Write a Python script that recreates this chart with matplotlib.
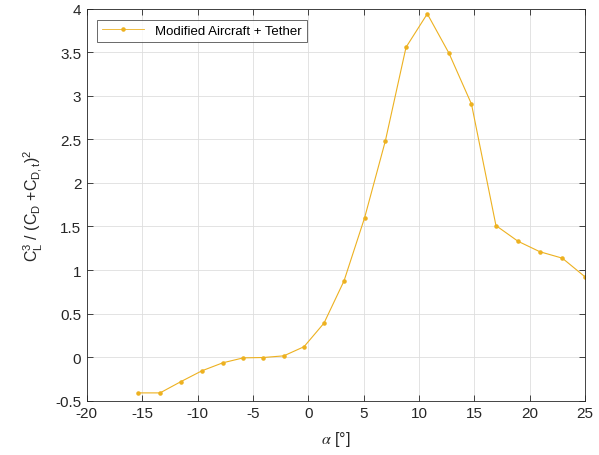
import matplotlib
matplotlib.use("Agg")
import matplotlib.pyplot as plt
from matplotlib.ticker import FuncFormatter

plt.rcParams['font.family'] = ['Liberation Sans', 'DejaVu Sans']
plt.rcParams['mathtext.fontset'] = 'stix'
plt.rcParams['mathtext.default'] = 'regular'

# Angle of attack [deg] and power factor CL^3/(CD+CD,t)^2
alpha = [-15.38, -13.39, -11.5, -9.62, -7.73, -5.87, -4.07, -2.22, -0.39, 1.41,
         3.22, 5.08, 6.95, 8.82, 10.74, 12.7, 14.73, 16.94, 18.93, 20.9, 22.93, 25.0]
power_factor = [-0.41, -0.41, -0.28, -0.157, -0.065, -0.008, -0.004, 0.015, 0.12, 0.39,
                0.875, 1.60, 2.48, 3.556, 3.94, 3.487, 2.904, 1.51, 1.33, 1.21, 1.136, 0.92]
series_label = 'Modified Aircraft + Tether'

x_ticks = list(range(-20, 30, 5))
y_ticks = [-0.5, 0, 0.5, 1, 1.5, 2, 2.5, 3, 3.5, 4]

ink = '#262626'
line_color = '#EDB120'

fig = plt.figure(figsize=(5.99, 4.56), dpi=100)
ax = fig.add_axes([0.145, 0.119, 0.832, 0.860])

ax.plot(alpha, power_factor, color=line_color, linewidth=0.8, marker='.',
        markersize=4.5, label=series_label)

ax.set_xlim(-20, 25)
ax.set_ylim(-0.5, 4)
ax.set_xticks(x_ticks)
ax.set_yticks(y_ticks)
ax.yaxis.set_major_formatter(FuncFormatter(lambda v, p: f'{v:g}'))
ax.xaxis.set_major_formatter(FuncFormatter(lambda v, p: f'{v:g}'))

ax.grid(True, color='#dedede', linewidth=0.6)
ax.set_axisbelow(True)
ax.tick_params(direction='in', top=True, right=True, length=4, width=0.6,
               colors=ink, labelsize=11, labelcolor=ink, pad=4)
for s in ax.spines.values():
    s.set_color(ink)
    s.set_linewidth(0.6)

ax.set_xlabel(r'$\mathit{\alpha}$ [°]', fontsize=11.5, color=ink, labelpad=6)
ax.set_ylabel(r'C$_L^3$ / (C$_D$ +C$_{D,t}$)$^2$', fontsize=11.5, color=ink, labelpad=7)

leg = ax.legend(loc='upper left', fontsize=9.5, frameon=True, fancybox=False,
                edgecolor=ink, borderpad=0.4, handlelength=3.2,
                bbox_to_anchor=(0.02, 0.972), borderaxespad=0.0)
leg.get_frame().set_linewidth(0.6)
for h in leg.get_lines():
    h.set_linewidth(0.6)

fig.savefig('out.png', dpi=100)
